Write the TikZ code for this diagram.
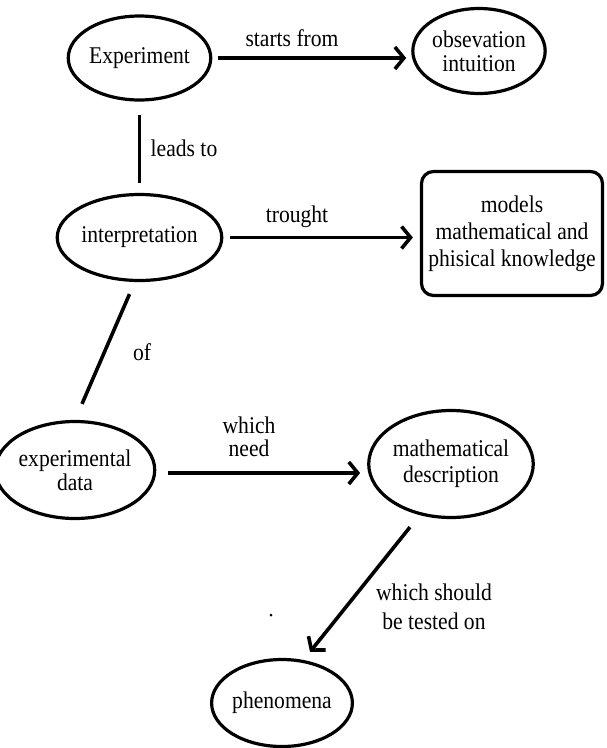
\documentclass[tikz,border=0pt]{standalone}
\usepackage{fontspec}
\setmainfont{Liberation Serif}[FakeStretch=0.9]
\usetikzlibrary{shapes.geometric,arrows.meta}
\begin{document}
\begin{tikzpicture}[x=1pt,y=-1pt,
  every node/.style={font=\fontsize{24}{24}\selectfont},
  oval/.style={ellipse,draw,line width=3.2pt,inner sep=0pt,align=center},
  rbox/.style={draw,rounded corners=12pt,line width=3.2pt,inner sep=0pt,align=center},
  lbl/.style={align=center,inner sep=0pt},
  conn/.style={line width=3.6pt},
  arr/.style={conn,-{Straight Barb[length=9pt,width=22pt]}}]
\useasboundingbox (0,0) rectangle (606,748);

\node[oval,minimum width=128pt,minimum height=84pt] (exp) at (139.5,58) {Experiment};
\node[oval,minimum width=129pt,minimum height=85pt] (obs) at (479,51) {obsevation\\intuition};
\node[oval,minimum width=139pt,minimum height=86pt] (interp) at (139.5,237.5) {interpretation};
\node[rbox,minimum width=181pt,minimum height=124pt,font=\fontsize{24}{27}\selectfont] (models) at (512,233.5) {models\\mathematical and\\phisical knowledge};
\node[oval,minimum width=127pt,minimum height=97pt] (expdata) at (75,470) {experimental\\data};
\node[oval,minimum width=150pt,minimum height=107pt,font=\fontsize{24}{26}\selectfont] (math) at (451,464) {mathematical\\description};
\node[oval,minimum width=128pt,minimum height=87pt] (phen) at (282,703) {phenomena};

\draw[arr,shorten <=6pt,shorten >=5pt] (exp.east) -- (exp.east -| obs.west);
\draw[conn,shorten <=13pt,shorten >=10pt] (exp.south) -- (interp.north);
\draw[arr,shorten <=7pt,shorten >=7pt] (interp.east) -- (interp.east -| models.west);
\draw[conn] ([shift={(-10,12)}]interp.south) -- ([shift={(7,-16)}]expdata.north);
\draw[arr,shorten <=12pt,shorten >=7pt] ([yshift=-3pt]expdata.east) -- ([yshift=-3pt]expdata.east -| math.west);
\draw[arr] ([shift={(-41,8)}]math.south) -- ([shift={(28,-6)}]phen.north);

\node[lbl] (l1) at (292,38) {starts from};
\node[lbl] (l2) at (184,148) {leads to};
\node[lbl] (l3) at (297,217) {trought};
\node[lbl] (l4) at (142,352) {of};
\node[lbl,font=\fontsize{24}{23}\selectfont] (l5) at (249,437) {which\\need};
\node[lbl,font=\fontsize{24}{29}\selectfont] (l6) at (434,607) {which should\\be tested on};

\fill (271,615) circle (1.5pt);
\end{tikzpicture}
\end{document}
